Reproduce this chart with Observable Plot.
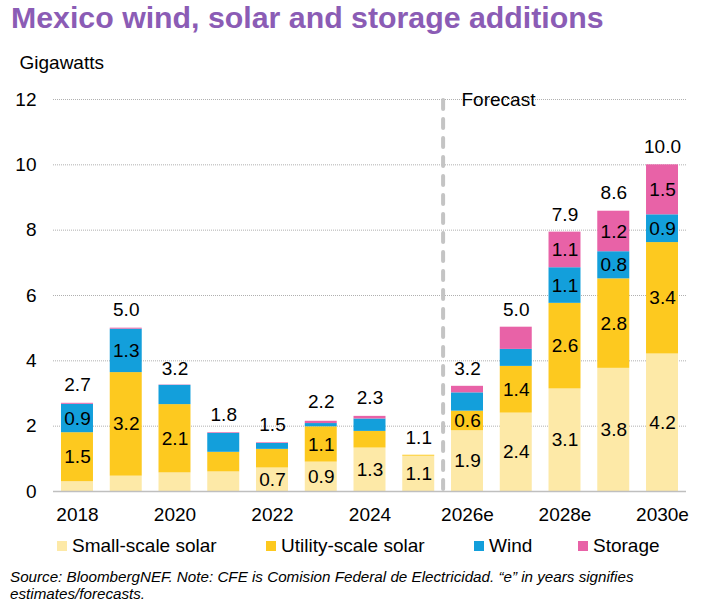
<!DOCTYPE html>
<html>
<head>
<meta charset="utf-8">
<script src="https://cdn.jsdelivr.net/npm/d3@7"></script>
<script src="https://cdn.jsdelivr.net/npm/@observablehq/plot@0.6"></script>
<style>
  body { margin: 0; background: #fff; font-family: "Liberation Sans", Arial, sans-serif; width: 701px; }
  #title { height: 40px; padding-left: 11px; font-weight: bold; font-size: 30.3px; color: #8b5cb5; line-height: 36px; white-space: nowrap; }
  #legend { position: relative; height: 30px; font-size: 19px; color: #000; }
  .item { display: flex; align-items: center; position: absolute; top: 4px; height: 22px; }
  .sw { width: 10px; height: 10px; margin-right: 5px; }
  #caption { padding-left: 10px; font-size: 15.2px; font-style: italic; line-height: 17px; color: #000; margin-top: 7px; white-space: nowrap; }
</style>
</head>
<body>
<div id="title">Mexico wind, solar and storage additions</div>
<div id="chart"></div>
<div id="legend"></div>
<div id="caption">Source: BloombergNEF. Note: CFE is Comision Federal de Electricidad. “e” in years signifies<br>estimates/forecasts.</div>
<script>
const years = ["2018","2019","2020","2021","2022","2023","2024","2025","2026e","2027e","2028e","2029e","2030e"];
const seriesNames = ["Small-scale solar","Utility-scale solar","Wind","Storage"];
const seriesColors = ["#fde9a7","#fdc91f","#139fdb","#e862a7"];

const smallSolar   = [0.30, 0.47, 0.57, 0.60, 0.72, 0.90, 1.33, 1.08, 1.86, 2.40, 3.14, 3.77, 4.21];
const utilitySolar = [1.50, 3.17, 2.09, 0.60, 0.57, 1.08, 0.51, 0.03, 0.60, 1.43, 2.62, 2.74, 3.41];
const wind         = [0.87, 1.33, 0.59, 0.58, 0.18, 0.10, 0.38, 0.00, 0.56, 0.52, 1.09, 0.83, 0.85];
const storage      = [0.03, 0.03, 0.01, 0.02, 0.02, 0.07, 0.08, 0.00, 0.20, 0.68, 1.09, 1.24, 1.53];

const smallLabels   = ["","","","","0.7","0.9","1.3","1.1","1.9","2.4","3.1","3.8","4.2"];
const utilityLabels = ["1.5","3.2","2.1","","","1.1","","","0.6","1.4","2.6","2.8","3.4"];
const windLabels    = ["0.9","1.3","","","","","","","","","1.1","0.8","0.9"];
const storageLabels = ["","","","","","","","","","","1.1","1.2","1.5"];

const totals = [2.7, 5.0, 3.2, 1.8, 1.5, 2.2, 2.3, 1.1, 3.2, 5.0, 7.9, 8.6, 10.0];
const totalLabels = ["2.7","5.0","3.2","1.8","1.5","2.2","2.3","1.1","3.2","5.0","7.9","8.6","10.0"];

const xTicks = ["2018","2020","2022","2024","2026e","2028e","2030e"];
const yTicks = [0, 2, 4, 6, 8, 10, 12];
const forecastStart = "2026e";

const seriesValues = [smallSolar, utilitySolar, wind, storage];
const seriesLabels = [smallLabels, utilityLabels, windLabels, storageLabels];

const data = [];
seriesNames.forEach((s, si) => {
  years.forEach((yr, i) => {
    data.push({year: yr, series: s, value: seriesValues[si][i], label: seriesLabels[si][i]});
  });
});
const totalData = years.map((yr, i) => ({year: yr, total: totals[i], label: totalLabels[i]}));

const font = "Liberation Sans, Arial, sans-serif";

const chart = Plot.plot({
  width: 701,
  height: 491,
  marginTop: 59,
  marginBottom: 40,
  marginLeft: 53,
  marginRight: 15,
  style: {fontFamily: font, fontSize: "19px", color: "#000", background: "#fff"},
  x: {domain: years, paddingInner: 0.344, paddingOuter: 0.164, round: false, label: null},
  y: {domain: [0, 12], label: null},
  color: {domain: seriesNames, range: seriesColors},
  marks: [
    Plot.gridY(yTicks, {stroke: "#b0b0b0", strokeOpacity: 1, strokeWidth: 1, strokeDasharray: "1,1"}),
    Plot.axisY(yTicks, {tickSize: 0, tickPadding: 17, fontSize: 19, label: null}),
    Plot.axisX(xTicks, {tickSize: 0, tickPadding: 16, fontSize: 19, label: null}),
    Plot.barY(data, {x: "year", y: "value", fill: "series", z: "series", order: seriesNames}),
    Plot.ruleY([0], {stroke: "#bfbfbf", strokeWidth: 1.5}),
    Plot.ruleX([forecastStart], {dx: -24.4, y1: 11.97, y2: -0.05, stroke: "#c4c4c4", strokeWidth: 4, strokeDasharray: "9,10", strokeLinecap: "round", clip: false}),
    Plot.text(data, Plot.stackY({x: "year", y: "value", z: "series", text: "label", order: seriesNames, fontSize: 19, fill: "#000"})),
    Plot.text(totalData, {x: "year", y: "total", text: "label", lineAnchor: "bottom", dy: -12, fontSize: 19, fill: "#000"}),
    Plot.text(["Forecast"], {x: [forecastStart], y: [12], text: d => d, dx: -6, textAnchor: "start", lineAnchor: "middle", fontSize: 19, fill: "#000"}),
    Plot.text(["Gigawatts"], {frameAnchor: "top-left", text: d => d, dx: -34, dy: -37, textAnchor: "start", lineAnchor: "middle", fontSize: 19, fill: "#000"})
  ]
});
document.getElementById("chart").appendChild(chart);

const legend = document.getElementById("legend");
const legendX = [57, 266, 474, 578];
seriesNames.forEach((s, i) => {
  const it = document.createElement("div");
  it.className = "item";
  it.style.left = legendX[i] + "px";
  const sw = document.createElement("span");
  sw.className = "sw";
  sw.style.background = seriesColors[i];
  const t = document.createElement("span");
  t.textContent = s;
  it.appendChild(sw); it.appendChild(t);
  legend.appendChild(it);
});
</script>
</body>
</html>
